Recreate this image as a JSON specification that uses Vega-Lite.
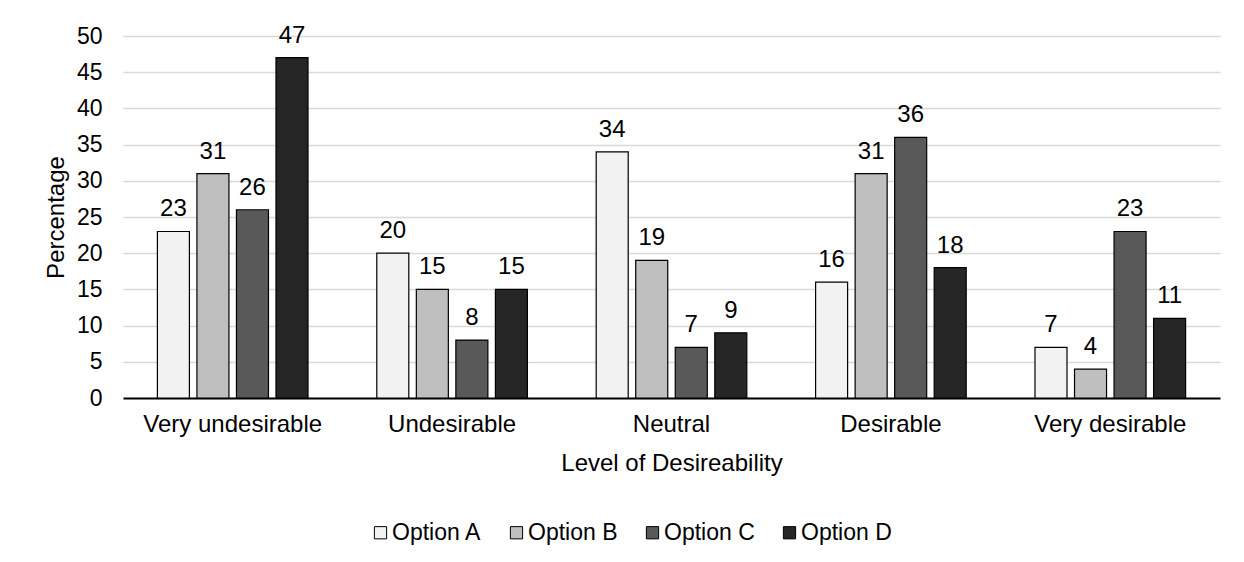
{
  "$schema": "https://vega.github.io/schema/vega-lite/v6.json",
  "autosize": "none",
  "width": 1097,
  "height": 362,
  "padding": {"left": 123, "top": 36, "right": 24, "bottom": 164},
  "background": "white",
  "config": {
    "font": "Liberation Sans",
    "view": {"stroke": null},
    "axis": {"labelFont": "Liberation Sans", "titleFont": "Liberation Sans", "labelColor": "#000", "titleColor": "#000", "labelFontSize": 23, "titleFontSize": 24, "titleFontWeight": "normal"},
    "legend": {"labelFont": "Liberation Sans", "labelFontSize": 23, "labelColor": "#000"}
  },
  "data": {
    "values": [
      {"level": "Very undesirable", "option": "Option A", "value": 23},
      {"level": "Very undesirable", "option": "Option B", "value": 31},
      {"level": "Very undesirable", "option": "Option C", "value": 26},
      {"level": "Very undesirable", "option": "Option D", "value": 47},
      {"level": "Undesirable", "option": "Option A", "value": 20},
      {"level": "Undesirable", "option": "Option B", "value": 15},
      {"level": "Undesirable", "option": "Option C", "value": 8},
      {"level": "Undesirable", "option": "Option D", "value": 15},
      {"level": "Neutral", "option": "Option A", "value": 34},
      {"level": "Neutral", "option": "Option B", "value": 19},
      {"level": "Neutral", "option": "Option C", "value": 7},
      {"level": "Neutral", "option": "Option D", "value": 9},
      {"level": "Desirable", "option": "Option A", "value": 16},
      {"level": "Desirable", "option": "Option B", "value": 31},
      {"level": "Desirable", "option": "Option C", "value": 36},
      {"level": "Desirable", "option": "Option D", "value": 18},
      {"level": "Very desirable", "option": "Option A", "value": 7},
      {"level": "Very desirable", "option": "Option B", "value": 4},
      {"level": "Very desirable", "option": "Option C", "value": 23},
      {"level": "Very desirable", "option": "Option D", "value": 11}
    ]
  },
  "encoding": {
    "x": {
      "field": "level", "type": "nominal",
      "sort": ["Very undesirable", "Undesirable", "Neutral", "Desirable", "Very desirable"],
      "scale": {"paddingInner": 0, "paddingOuter": 0},
      "axis": {"title": "Level of Desireability", "labelAngle": 0, "labelFontSize": 24, "ticks": false, "domainColor": "#000", "domainWidth": 2, "labelPadding": 14, "titlePadding": 15, "grid": false}
    },
    "xOffset": {
      "field": "option", "type": "nominal",
      "scale": {"paddingInner": 0.19, "paddingOuter": 0.87}
    },
    "y": {
      "field": "value", "type": "quantitative",
      "scale": {"domain": [0, 50]},
      "axis": {"title": "Percentage", "values": [0,5,10,15,20,25,30,35,40,45,50], "domain": false, "ticks": false, "labelPadding": 21, "gridColor": "#d9d9d9", "gridWidth": 1.5, "titlePadding": 8}
    }
  },
  "layer": [
    {
      "mark": {"type": "bar", "stroke": "#000", "strokeWidth": 1.2},
      "encoding": {
        "fill": {
          "field": "option", "type": "nominal",
          "scale": {"domain": ["Option A", "Option B", "Option C", "Option D"], "range": ["#f2f2f2", "#bfbfbf", "#595959", "#262626"]},
          "legend": {"title": null, "orient": "none", "direction": "horizontal", "legendX": 246, "legendY": 485, "symbolType": "square", "symbolSize": 150, "symbolStrokeColor": "#000", "symbolStrokeWidth": 1, "labelOffset": 0, "columnPadding": 23}
        }
      }
    },
    {
      "mark": {"type": "text", "baseline": "bottom", "dy": -10, "fontSize": 24, "color": "#000"},
      "encoding": {"text": {"field": "value", "type": "quantitative"}}
    }
  ]
}
